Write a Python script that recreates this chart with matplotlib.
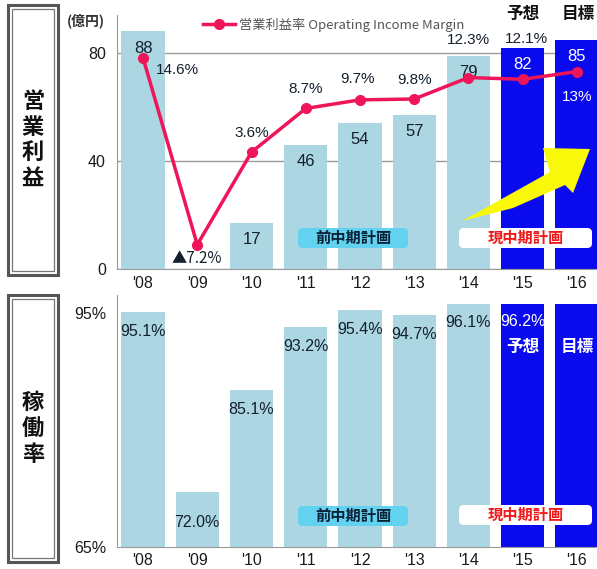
import matplotlib
matplotlib.use("Agg")
import matplotlib.pyplot as plt
from matplotlib.patches import Rectangle, FancyBboxPatch, Polygon
import numpy as np

plt.rcParams['font.family'] = ['Liberation Sans', 'Noto Sans CJK JP', 'DejaVu Sans']

# ---- data ----
years = ["'08", "'09", "'10", "'11", "'12", "'13", "'14", "'15", "'16"]
operating_income = [88, np.nan, 17, 46, 54, 57, 79, 82, 85]     # 億円 ('09 was a loss)
income_labels = ["88", "", "17", "46", "54", "57", "79", "82", "85"]
margin = [14.6, -7.2, 3.6, 8.7, 9.7, 9.8, 12.3, 12.1, 13.0]       # %
margin_labels = ["14.6%", "▲7.2%", "3.6%", "8.7%", "9.7%", "9.8%", "12.3%", "12.1%", "13%"]
utilization = [95.1, 72.0, 85.1, 93.2, 95.4, 94.7, 96.1, 96.2, 96.2]  # %
util_labels = ["95.1%", "72.0%", "85.1%", "93.2%", "95.4%", "94.7%", "96.1%", "96.2%", ""]
plan_kind = ["past"] * 7 + ["current"] * 2

# ---- style ----
LIGHT = "#acd6e1"
BLUE = "#0a0aee"
LINE = "#ee1558"
DARK = "#14202e"
GRID = "#9a9a9a"
CJK = ['Noto Sans CJK JP', 'DejaVu Sans']

W, H = 597, 569
fig = plt.figure(figsize=(W / 100, H / 100), dpi=100)

def fx(px):
    return px / W

def fy(py):
    return 1 - py / H

x = np.arange(len(years))
colors = [LIGHT if k == "past" else BLUE for k in plan_kind]
XLIM = (-0.48, 8.37)

# ================= top panel: operating income =================
ax = fig.add_axes([fx(117), fy(269), fx(597) - fx(117), fy(15) - fy(269)])
ax.bar(x, operating_income, width=0.8, color=colors, zorder=2)
ax.set_xlim(*XLIM)
ax.set_ylim(0, 94.1)
ax.set_yticks([0, 40, 80])
ax.set_xticks(x)
ax.set_xticklabels(years)
ax.tick_params(length=0, labelsize=11.5, colors="#1a1a1a")
ax.tick_params(axis='y', pad=8)
ax.tick_params(axis='x', pad=5)
for s in ["top", "right"]:
    ax.spines[s].set_visible(False)
for s in ["left", "bottom"]:
    ax.spines[s].set_color(GRID)
ax.yaxis.grid(True, color=GRID, lw=1, zorder=0)
ax.set_axisbelow(True)

for xi, v, lab, k in zip(x, operating_income, income_labels, plan_kind):
    if lab:
        ax.annotate(lab, (xi, v), xytext=(0, -12), textcoords="offset points",
                    ha="center", va="center", fontsize=12,
                    color=DARK if k == "past" else "white", zorder=5)

# margin line on a hidden secondary scale
ax2 = ax.twinx()
ax2.set_ylim(-10.03, 19.6)
ax2.set_xlim(*XLIM)
ax2.axis("off")
ax2.plot(x, margin, color=LINE, lw=2.5, marker="o", ms=7, zorder=4,
         label="営業利益率 Operating Income Margin")

margin_offsets = [(25, -9), (0, -10), (0, 14), (0, 14), (-2, 15), (0, 14),
                  (0, 27), (3, 29), (0, -18)]
for i, (lab, off) in enumerate(zip(margin_labels, margin_offsets)):
    fam = ['Noto Sans CJK JP', 'DejaVu Sans'] if lab.startswith("▲") else None
    ax2.annotate(lab, (x[i], margin[i]), xytext=off, textcoords="offset points",
                 ha="center", va="center", fontsize=11, family=fam,
                 color="white" if i == 8 else DARK, zorder=6)

leg = ax2.legend(loc="center left", bbox_to_anchor=(fx(203), fy(25)),
                 bbox_transform=fig.transFigure, frameon=False, borderpad=0,
                 borderaxespad=0, handlelength=2.4, handletextpad=0.3,
                 prop={'family': ['Noto Sans CJK JP'], 'size': 9.5})
for t in leg.get_texts():
    t.set_color("#555555")

# ================= bottom panel: utilization =================
bx = fig.add_axes([fx(117), fy(547), fx(597) - fx(117), fy(295) - fy(547)])
bx.bar(x, [u - 65 for u in utilization], bottom=65, width=0.8, color=colors, zorder=2)
bx.set_xlim(*XLIM)
bx.set_ylim(65, 97.3)
bx.set_yticks([65, 95])
bx.set_yticklabels(["65%", "95%"])
bx.set_xticks(x)
bx.set_xticklabels(years)
bx.tick_params(length=0, labelsize=11.5, colors="#1a1a1a")
bx.tick_params(axis='y', pad=8)
bx.tick_params(axis='x', pad=4)
for s in ["top", "right"]:
    bx.spines[s].set_visible(False)
for s in ["left", "bottom"]:
    bx.spines[s].set_color(GRID)
bx.set_yticks([95], minor=True)
bx.yaxis.grid(True, which="minor", color=GRID, lw=1, zorder=0)
bx.set_axisbelow(True)

util_offsets = [-14, -22, -14, -14, -14, -14, -13, -13, 0]
for xi, v, lab, k, off in zip(x, utilization, util_labels, plan_kind, util_offsets):
    if lab:
        bx.annotate(lab, (xi, v), xytext=(0, off), textcoords="offset points",
                    ha="center", va="center", fontsize=11.5,
                    color=DARK if k == "past" else "white", zorder=5)
for xi, v, word in [(x[7], utilization[7], "予想"), (x[8], utilization[8], "目標")]:
    bx.annotate(word, (xi, v), xytext=(0, -31), textcoords="offset points",
                ha="center", va="center", fontsize=12, fontweight="bold",
                color="white", family=CJK, zorder=5)

# ---- headings above the forecast / target columns ----
for px, word in [(523, "予想"), (578, "目標")]:
    fig.text(fx(px), fy(14), word, ha="center", va="center", fontsize=12,
             fontweight="bold", color="#111111", family=CJK)

fig.text(fx(86), fy(21), "(億円)", ha="center", va="center", fontsize=10,
         fontweight="bold", color="#333333", family=CJK)

# ---- side captions in double-bordered frames ----
def side_box(top, bottom, label):
    fig.patches.append(Rectangle((fx(8), fy(bottom)), fx(58) - fx(8), fy(top) - fy(bottom),
                                 transform=fig.transFigure, fill=False,
                                 ec="#555555", lw=2.2))
    fig.patches.append(Rectangle((fx(12), fy(bottom - 4)), fx(54) - fx(12),
                                 fy(top + 4) - fy(bottom - 4),
                                 transform=fig.transFigure, fill=False,
                                 ec="#777777", lw=0.9))
    fig.text(fx(33), fy((top + bottom) / 2), "\n".join(label), ha="center", va="center",
             fontsize=16, fontweight="bold", color="#111111", family=CJK,
             linespacing=1.15)

side_box(5, 275, "営業利益")
side_box(295, 562, "稼働率")

# ---- plan-period tags ----
def tag(x0, x1, yc, text, fc, tc):
    h = 20
    fig.patches.append(FancyBboxPatch((fx(x0), fy(yc + h / 2)), fx(x1) - fx(x0),
                                      fy(yc - h / 2) - fy(yc + h / 2),
                                      boxstyle="round,pad=0,rounding_size=0.008",
                                      transform=fig.transFigure, fc=fc, ec="none",
                                      zorder=3))
    fig.text(fx((x0 + x1) / 2), fy(yc), text, ha="center", va="center",
             fontsize=11, fontweight="bold", color=tc, family=CJK, zorder=4)

tag(298, 408, 238, "前中期計画", "#62d2f0", "#0b2236")
tag(459, 592, 238, "現中期計画", "white", "#f01818")
tag(298, 408, 516, "前中期計画", "#62d2f0", "#0b2236")
tag(459, 592, 515, "現中期計画", "white", "#f01818")

# ---- growth arrow ----
arrow_px = [(462, 221), (507, 196), (550, 172), (543, 148), (590, 149),
            (573, 193), (565, 185), (513, 208)]
fig.patches.append(Polygon([(fx(a), fy(b)) for a, b in arrow_px], closed=True,
                           transform=fig.transFigure, fc="#f8f808", ec="none", zorder=3))

fig.savefig("out.png", dpi=100)
